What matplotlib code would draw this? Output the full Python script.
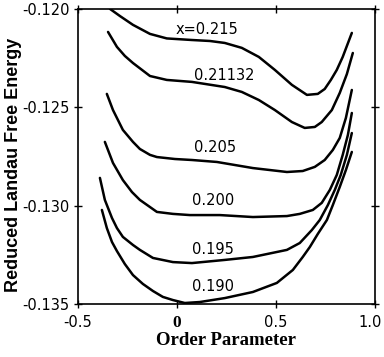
import matplotlib
matplotlib.use("Agg")
import matplotlib.pyplot as plt

# x values (order parameter) and reduced Landau free energy, one pair per composition
x_215 = [-0.338, -0.288, -0.222, -0.136, -0.051, 0.076, 0.167, 0.242, 0.328, 0.414,
         0.495, 0.581, 0.657, 0.712, 0.747, 0.778, 0.808, 0.838, 0.884]
f_215 = [-0.12000, -0.12036, -0.12081, -0.12127, -0.12150, -0.12158, -0.12163, -0.12173,
         -0.12198, -0.12244, -0.12310, -0.12386, -0.12437, -0.12432, -0.12407, -0.12361,
         -0.12310, -0.12244, -0.12122]

x_21132 = [-0.348, -0.303, -0.263, -0.222, -0.136, -0.051, 0.076, 0.242, 0.328, 0.414,
           0.495, 0.581, 0.646, 0.697, 0.732, 0.783, 0.823, 0.859, 0.889]
f_21132 = [-0.12117, -0.12193, -0.12239, -0.12275, -0.12341, -0.12361, -0.12371, -0.12397,
           -0.12422, -0.12463, -0.12514, -0.12575, -0.12605, -0.12600, -0.12575, -0.12514,
           -0.12427, -0.12331, -0.12224]

x_205 = [-0.354, -0.323, -0.273, -0.222, -0.187, -0.136, -0.101, -0.010, 0.076, 0.202,
         0.384, 0.556, 0.636, 0.697, 0.747, 0.788, 0.823, 0.854, 0.884]
f_205 = [-0.12432, -0.12514, -0.12615, -0.12676, -0.12712, -0.12742, -0.12753, -0.12763,
         -0.12768, -0.12778, -0.12809, -0.12829, -0.12824, -0.12803, -0.12768, -0.12717,
         -0.12656, -0.12554, -0.12412]

x_200 = [-0.364, -0.323, -0.273, -0.227, -0.187, -0.101, -0.020, 0.066, 0.217, 0.384,
         0.556, 0.621, 0.687, 0.732, 0.773, 0.808, 0.838, 0.864, 0.884]
f_200 = [-0.12676, -0.12783, -0.12870, -0.12931, -0.12971, -0.13032, -0.13042, -0.13048,
         -0.13048, -0.13058, -0.13053, -0.13042, -0.13022, -0.12986, -0.12920, -0.12844,
         -0.12742, -0.12641, -0.12529]

x_195 = [-0.389, -0.364, -0.328, -0.303, -0.273, -0.222, -0.187, -0.121, -0.020, 0.076,
         0.242, 0.384, 0.556, 0.621, 0.682, 0.722, 0.763, 0.798, 0.828, 0.859, 0.884]
f_195 = [-0.12859, -0.12971, -0.13063, -0.13114, -0.13159, -0.13200, -0.13225, -0.13266,
         -0.13287, -0.13292, -0.13276, -0.13261, -0.13225, -0.13190, -0.13124, -0.13073,
         -0.12997, -0.12920, -0.12844, -0.12742, -0.12631]

x_190 = [-0.379, -0.354, -0.328, -0.303, -0.263, -0.222, -0.172, -0.121, -0.071, -0.020,
         0.040, 0.116, 0.242, 0.384, 0.505, 0.586, 0.636, 0.672, 0.712, 0.758, 0.788,
         0.823, 0.854, 0.884]
f_190 = [-0.13022, -0.13114, -0.13185, -0.13231, -0.13297, -0.13353, -0.13398, -0.13434,
         -0.13464, -0.13480, -0.13495, -0.13490, -0.13470, -0.13439, -0.13393, -0.13327,
         -0.13261, -0.13210, -0.13144, -0.13073, -0.12997, -0.12905, -0.12819, -0.12727]

curves = [(x_215, f_215), (x_21132, f_21132), (x_205, f_205),
          (x_200, f_200), (x_195, f_195), (x_190, f_190)]
labels = ["x=0.215", "0.21132", "0.205", "0.200", "0.195", "0.190"]
# where each curve label sits
label_xy = [(-0.005, -0.12107), (0.085, -0.12336), (0.085, -0.12707),
            (0.076, -0.12976), (0.076, -0.13225), (0.076, -0.13409)]

xticks = [-0.5, 0, 0.5, 1.0]
xtick_labels = ["-0.5", "0", "0.5", "1.0"]
yticks = [-0.120, -0.125, -0.130, -0.135]
ytick_labels = ["-0.120", "-0.125", "-0.130", "-0.135"]

fig = plt.figure(figsize=(3.84, 3.57), dpi=100)
ax = fig.add_axes([0.203, 0.1485, 0.773, 0.8265])

for xs, fs in curves:
    ax.plot(xs, fs, color="black", lw=1.8, solid_capstyle="round",
            solid_joinstyle="round")

for lab, (lx, ly) in zip(labels, label_xy):
    ax.text(lx, ly, lab, fontsize=10.5, family="DejaVu Sans",
            ha="left", va="center")

ax.set_xlim(-0.5, 1.0)
ax.set_ylim(-0.135, -0.120)
ax.set_xticks(xticks)
# last label is drawn separately, nudged left so it stays inside the picture
ax.set_xticklabels(xtick_labels[:-1] + [""], fontsize=10.5, family="DejaVu Sans")
ax.annotate(xtick_labels[-1], xy=(xticks[-1], 0), xycoords=("data", "axes fraction"),
            xytext=(-3, -8), textcoords="offset points", ha="center", va="top",
            fontsize=10.5, family="DejaVu Sans")
ax.set_yticks(yticks)
ax.set_yticklabels(ytick_labels, fontsize=10.5, family="DejaVu Sans")
xlabs = ax.get_xticklabels()
# the zero tick is set in a bold serif in the original
xlabs[1].set_family("Liberation Serif")
xlabs[1].set_fontweight("bold")
xlabs[1].set_fontsize(12.5)

ax.tick_params(direction="inout", length=6, width=1.0, top=True, right=True,
               labeltop=False, labelright=False)
ax.tick_params(axis="x", pad=5)
ax.tick_params(axis="y", pad=3)
for sp in ax.spines.values():
    sp.set_linewidth(1.2)

ax.set_xlabel("Order Parameter", fontsize=13.5, family="Liberation Serif",
              fontweight="bold", labelpad=1)
ax.set_ylabel("Reduced Landau Free Energy", fontsize=13, family="Liberation Sans",
              fontweight="bold")
ax.yaxis.set_label_coords(-0.19, 0.47)

fig.savefig("out.png", dpi=100)
